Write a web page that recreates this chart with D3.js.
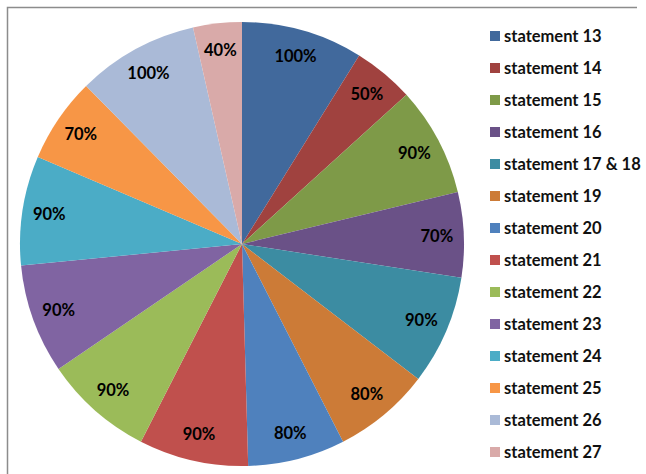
<!DOCTYPE html>
<html>
<head>
<meta charset="utf-8">
<script src="https://cdn.jsdelivr.net/npm/d3@7"></script>
<style>
  body { margin: 0; background: #fff; }
  svg { display: block; }
</style>
</head>
<body>
<svg id="chart"></svg>
<script>
const categories = [
  "statement 13", "statement 14", "statement 15", "statement 16",
  "statement 17 & 18", "statement 19", "statement 20", "statement 21",
  "statement 22", "statement 23", "statement 24", "statement 25",
  "statement 26", "statement 27",
];
const values = [100, 50, 90, 70, 90, 80, 80, 90, 90, 90, 90, 70, 100, 40];
const colors = [
  "#41699c", "#a0423f", "#7e9a48", "#6a5187", "#3c8ca2", "#cc7b37",
  "#4f81bd", "#c0504d", "#9bbb59", "#8064a2", "#4bacc6", "#f79646",
  "#aabad7", "#d9aaa9",
];

const width = 646;
const height = 474;
const cx = 242;
const cy = 244;
const radius = 222;
const labelRadius = 195;

const svg = d3.select("#chart").attr("width", width).attr("height", height);

// frame (only top and left edges are visible in the original)
svg.append("path")
  .attr("d", "M7.5,474 L7.5,7.5 L637,7.5")
  .attr("fill", "none")
  .attr("stroke", "#8c8c8c")
  .attr("stroke-width", 1.5);

const data = categories.map((c, i) => ({ name: c, value: values[i], color: colors[i] }));

const pie = d3.pie().sort(null).value((d) => d.value);
const arc = d3.arc().innerRadius(0).outerRadius(radius);
const labelArc = d3.arc().innerRadius(labelRadius).outerRadius(labelRadius);

const g = svg.append("g").attr("transform", `translate(${cx}, ${cy})`);
const arcs = pie(data);

g.selectAll("path.slice")
  .data(arcs)
  .join("path")
  .attr("class", "slice")
  .attr("d", arc)
  .attr("fill", (d) => d.data.color);

g.selectAll("text.lbl")
  .data(arcs)
  .join("text")
  .attr("class", "lbl")
  .attr("transform", (d) => `translate(${labelArc.centroid(d)})`)
  .attr("text-anchor", "middle")
  .attr("dy", "0.35em")
  .style("font-family", "Lato, 'Open Sans', sans-serif")
  .style("font-weight", "bold")
  .style("font-size", "16.5px")
  .attr("fill", "#000")
  .text((d) => d.data.value + "%");

// legend
const legendX = 490;
const legendY = d3.scalePoint().domain(categories).range([36, 452]);

const legend = svg.append("g");
const items = legend.selectAll("g")
  .data(data)
  .join("g")
  .attr("transform", (d) => `translate(${legendX}, ${legendY(d.name)})`);

items.append("rect")
  .attr("x", 0)
  .attr("y", -5)
  .attr("width", 10)
  .attr("height", 10)
  .attr("fill", (d) => d.color);

items.append("text")
  .attr("x", 14)
  .attr("dy", "0.35em")
  .style("font-family", "Lato, 'Open Sans', sans-serif")
  .style("font-weight", "bold")
  .style("font-size", "16.5px")
  .attr("fill", "#111")
  .text((d) => d.name);
</script>
</body>
</html>
